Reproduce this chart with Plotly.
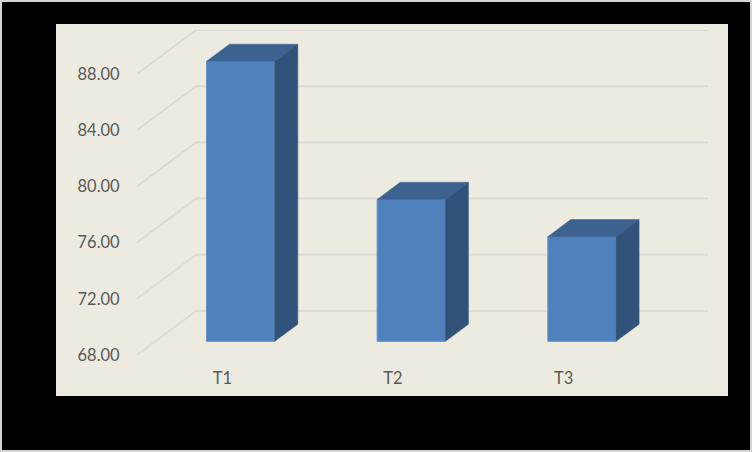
import plotly.graph_objects as go

categories = ['T1', 'T2', 'T3']
values = [87.93, 78.1, 75.45]
y_ticks = [68, 72, 76, 80, 84, 88]

W, H = 752, 452
L, R, T, B = 137, 44, 30, 97
plot_w = W - L - R
plot_h = H - T - B

# oblique projection: full floor depth in axis units
depth_x = 0.346
depth_y = 3.13
y_min = 68
bar_width = 0.4
# bar sits between these fractions of the floor depth
bar_front = 0.31
bar_back = 0.70

xs = list(range(len(categories)))


def paper_x(px):
    return (px - L) / plot_w


def paper_y(py):
    return 1 - (py - T) / plot_h


fig = go.Figure()

# chart panel and picture border
fig.add_shape(type='rect', xref='paper', yref='paper', layer='below',
              x0=paper_x(56), x1=paper_x(728), y0=paper_y(396), y1=paper_y(24),
              fillcolor='#EDEBE0', line_width=0)
fig.add_shape(type='rect', xref='paper', yref='paper', layer='below',
              x0=paper_x(1), x1=paper_x(751), y0=paper_y(451), y1=paper_y(1),
              fillcolor='rgba(0,0,0,0)', line=dict(color='#D4D4D4', width=2))

# floor lines and back wall gridlines
for v in y_ticks:
    fig.add_shape(type='line', xref='x', yref='y', layer='below',
                  x0=-0.5, y0=v, x1=-0.5 + depth_x, y1=v + depth_y,
                  line=dict(color='#DCDBD8', width=2))
    fig.add_shape(type='line', xref='x', yref='y', layer='below',
                  x0=-0.5 + depth_x, y0=v + depth_y, x1=2.5 + depth_x, y1=v + depth_y,
                  line=dict(color='#DCDBD8', width=2))

front_dx = bar_front * depth_x
front_dy = bar_front * depth_y
back_dx = bar_back * depth_x
back_dy = bar_back * depth_y

fig.add_trace(go.Bar(
    x=[x + front_dx for x in xs],
    y=[v - y_min for v in values],
    base=y_min + front_dy,
    width=bar_width,
    marker=dict(color='#4F81BD', line=dict(color='#6A94C6', width=1)),
    hoverinfo='skip',
))

for x, v in zip(xs, values):
    left = x + front_dx - bar_width / 2
    right = x + front_dx + bar_width / 2
    shift_x = back_dx - front_dx
    # top face
    fig.add_trace(go.Scatter(
        x=[left, right, right + shift_x, left + shift_x, left],
        y=[v + front_dy, v + front_dy, v + back_dy, v + back_dy, v + front_dy],
        mode='lines', fill='toself', fillcolor='#3C6290',
        line=dict(color='#3C6290', width=0.5), hoverinfo='skip',
    ))
    # side face
    fig.add_trace(go.Scatter(
        x=[right, right + shift_x, right + shift_x, right, right],
        y=[v + front_dy, v + back_dy, y_min + back_dy, y_min + front_dy, v + front_dy],
        mode='lines', fill='toself', fillcolor='#325379',
        line=dict(color='#325379', width=0.5), hoverinfo='skip',
    ))

fig.update_layout(
    width=W, height=H,
    margin=dict(l=L, r=R, t=T, b=B, pad=0),
    paper_bgcolor='black',
    plot_bgcolor='rgba(0,0,0,0)',
    showlegend=False,
    font=dict(family='Lato', size=16.5, color='#595959'),
)
fig.update_xaxes(
    range=[-0.5, 2.5 + depth_x], tickvals=xs, ticktext=categories,
    showgrid=False, zeroline=False, showline=False,
    ticks='outside', ticklen=8, tickcolor='rgba(0,0,0,0)',
)
fig.update_yaxes(
    range=[y_min, 88 + depth_y], tickvals=y_ticks, tickformat='.2f',
    showgrid=False, zeroline=False, showline=False,
    ticks='outside', ticklen=13, tickcolor='rgba(0,0,0,0)',
)

# page default margin would push the chart 8px off
fig.write_html("out.html", config={'displayModeBar': False},
               post_script="document.body.style.margin = '0';")
